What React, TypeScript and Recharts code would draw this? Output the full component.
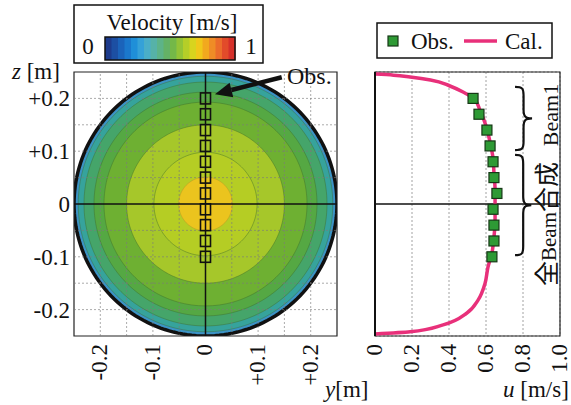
import React from "react";
import {
  ComposedChart,
  Area,
  Line,
  Scatter,
  XAxis,
  YAxis,
  CartesianGrid,
  ReferenceLine,
  ReferenceArea,
} from "recharts";

const SERIF = '"Liberation Serif", "Times New Roman", serif';
const CJK = '"Noto Sans CJK JP", "Noto Sans CJK SC", sans-serif';

// contour levels of the cross-section: radius [m] and fill
const contourRadii = [0.25, 0.242, 0.231, 0.212, 0.193, 0.15, 0.098, 0.051];
const contourColors = ["#3b93c6", "#36a39c", "#45a56a", "#55a843", "#6eb032", "#a6c72a", "#b5cd24", "#ebc41e"];

// measurement points (z [m]) and measured u [m/s]
const obsZ = [0.2, 0.17, 0.14, 0.11, 0.08, 0.05, 0.02, -0.01, -0.04, -0.07, -0.1];
const obsU = [0.53, 0.562, 0.605, 0.622, 0.638, 0.643, 0.659, 0.638, 0.643, 0.643, 0.632];

// calculated profile
const calZ = [0.246, 0.244, 0.2405, 0.235, 0.2235, 0.212, 0.197, 0.178, 0.148, 0.117, 0.087, 0.059, 0.027, -0.002, -0.032, -0.0625, -0.093, -0.119, -0.15, -0.182, -0.2065, -0.229, -0.242, -0.246];
const calU = [0, 0.1, 0.19, 0.3, 0.405, 0.476, 0.54, 0.567, 0.6, 0.622, 0.638, 0.643, 0.649, 0.649, 0.649, 0.643, 0.632, 0.611, 0.595, 0.557, 0.497, 0.368, 0.19, 0];

const posGrid = [-0.2, -0.15, -0.1, -0.05, 0, 0.05, 0.1, 0.15, 0.2];
const posLabels = [-0.2, -0.1, 0, 0.1, 0.2];
const uTicks = [0, 0.2, 0.4, 0.6, 0.8, 1.0];

const colorbarSteps = ["#1d3b8c", "#1c4fa3", "#1b63ba", "#1b78cc", "#1f8fd8", "#35a1d8", "#4aaec8", "#56b2a8", "#5db388", "#64b266", "#74b848", "#93c336", "#b5ce28", "#d8d41e", "#f0c81a", "#f2a91e", "#ef8c26", "#eb6c2b", "#e24b2a", "#d6302a"];

const circle = (r: number) => {
  const pts = [];
  for (let i = 0; i <= 90; i++) {
    const t = Math.PI - (Math.PI * i) / 90;
    const h = r * Math.sin(t);
    pts.push({ yPos: r * Math.cos(t), band: [-h, h] });
  }
  return pts;
};

const obsData = obsZ.map((z, i) => ({ yPos: 0, u: obsU[i], z }));
const calData = calZ.map((z, i) => ({ u: calU[i], z }));

const isLabel = (v: number) => posLabels.some((l) => Math.abs(l - v) < 1e-6);
const signed = (v: number) => (Math.abs(v) < 1e-9 ? "0" : v > 0 ? "+" + v.toFixed(1) : v.toFixed(1));

const LeftYTick = ({ x, y, payload }: any) =>
  isLabel(payload.value) ? (
    <text x={x} y={y} dy="0.35em" textAnchor="end" fontFamily={SERIF} fontSize={23} fill="#111">
      {signed(payload.value)}
    </text>
  ) : (
    <g />
  );

const RotTick = ({ x, y, payload, fmt }: any) => (
  <text x={x} y={y} dy="0.3em" textAnchor="end" transform={`rotate(-90 ${x} ${y})`} fontFamily={SERIF} fontSize={23} fill="#111">
    {fmt(payload.value)}
  </text>
);

const LeftXTick = (p: any) => (isLabel(p.payload.value) ? <RotTick {...p} fmt={signed} /> : <g />);
const RightXTick = (p: any) => <RotTick {...p} fmt={(v: number) => (v === 0 ? "0" : v.toFixed(1))} />;

const OpenSquare = ({ cx, cy }: any) => (
  <rect x={cx - 5} y={cy - 5.5} width={10} height={11} fill="none" stroke="#111" strokeWidth={1.6} />
);
const GreenSquare = ({ cx, cy }: any) => (
  <rect x={cx - 5} y={cy - 5} width={10} height={10} fill="#2e9a35" stroke="#163816" strokeWidth={1.2} />
);

const Arrow = ({ x1, y1, x2, y2 }: any) => {
  const a = Math.atan2(y2 - y1, x2 - x1);
  const head = 17;
  const half = 7.5;
  const bx = x2 - head * Math.cos(a);
  const by = y2 - head * Math.sin(a);
  const px = -Math.sin(a) * half;
  const py = Math.cos(a) * half;
  return (
    <g>
      <line x1={x1} y1={y1} x2={bx} y2={by} stroke="#111" strokeWidth={4.5} />
      <polygon points={`${x2},${y2} ${bx + px},${by + py} ${bx - px},${by - py}`} fill="#111" />
    </g>
  );
};

const Brace = ({ x, y, width: w, height: h }: any) => {
  const m = y + h / 2;
  const c = 9;
  const xm = x + w / 2;
  const d = `M ${x} ${y} C ${x + w * 0.45} ${y} ${xm} ${y + 2} ${xm} ${y + c} L ${xm} ${m - c} C ${xm} ${m - 2} ${x + w * 0.6} ${m} ${x + w} ${m} C ${x + w * 0.6} ${m} ${xm} ${m + 2} ${xm} ${m + c} L ${xm} ${y + h - c} C ${xm} ${y + h - 2} ${x + w * 0.45} ${y + h} ${x} ${y + h}`;
  return <path d={d} fill="none" stroke="#111" strokeWidth={2.2} />;
};

export default function App() {
  const dashedGrid = posGrid.filter((v) => Math.abs(v) > 1e-9);
  return (
    <div style={{ position: "absolute", left: 0, top: 0, width: 571, height: 405, background: "#fff" }}>
      <div style={{ position: "absolute", left: 0, top: 0 }}>
        <ComposedChart width={345} height={405} margin={{ top: 72, right: 8, bottom: 19, left: 14 }}>
          <XAxis
            type="number"
            dataKey="yPos"
            domain={[-0.25, 0.25]}
            allowDataOverflow
            ticks={posGrid}
            interval={0}
            height={50}
            tickSize={0}
            tickMargin={8}
            axisLine={false}
            tick={LeftXTick}
          />
          <YAxis
            type="number"
            dataKey="z"
            domain={[-0.25, 0.25]}
            allowDataOverflow
            ticks={posGrid}
            interval={0}
            width={60}
            tickSize={0}
            tickMargin={4}
            axisLine={false}
            tick={LeftYTick}
          />
          {contourRadii.map((r, i) => (
            <Area
              key={r}
              data={circle(r)}
              dataKey="band"
              type="linear"
              fill={contourColors[i]}
              fillOpacity={1}
              stroke={i === 0 ? "#111" : i === contourRadii.length - 1 ? "#b8902a" : "#3f6d2a"}
              strokeOpacity={i === 0 ? 1 : 0.55}
              strokeWidth={i === 0 ? 3.5 : 0.8}
              isAnimationActive={false}
            />
          ))}
          {dashedGrid.map((v) => (
            <ReferenceLine key={"gx" + v} x={v} stroke="#7a7a7a" strokeOpacity={0.8} strokeDasharray="2 2" strokeWidth={0.8} />
          ))}
          {dashedGrid.map((v) => (
            <ReferenceLine key={"gy" + v} y={v} stroke="#7a7a7a" strokeOpacity={0.8} strokeDasharray="2 2" strokeWidth={0.8} />
          ))}
          <ReferenceArea x1={-0.25} x2={0.25} y1={-0.25} y2={0.25} fill="none" stroke="#222" strokeWidth={1.2} />
          <ReferenceLine y={0} stroke="#111" strokeWidth={1.5} />
          <ReferenceLine x={0} stroke="#111" strokeWidth={1.5} />
          <Scatter data={obsData} shape={OpenSquare} isAnimationActive={false} />
          <ReferenceLine
            segment={[
              { x: 0.145, y: 0.24 },
              { x: 0.018, y: 0.208 },
            ]}
            shape={Arrow}
          />
        </ComposedChart>
      </div>

      <div style={{ position: "absolute", left: 345, top: 0 }}>
        <ComposedChart width={226} height={405} margin={{ top: 72, right: 11, bottom: 19, left: 0 }}>
          <XAxis
            type="number"
            dataKey="u"
            domain={[0, 1]}
            allowDataOverflow
            ticks={uTicks}
            interval={0}
            height={50}
            tickSize={0}
            tickMargin={8}
            axisLine={false}
            tick={RightXTick}
          />
          <YAxis
            type="number"
            dataKey="z"
            domain={[-0.25, 0.25]}
            allowDataOverflow
            ticks={posGrid}
            interval={0}
            width={30}
            tick={false}
            tickLine={false}
            axisLine={{ stroke: "#111", strokeWidth: 2 }}
          />
          <CartesianGrid stroke="#8a8a8a" strokeDasharray="2 2" strokeWidth={0.8} />
          <ReferenceArea x1={0} x2={1} y1={-0.25} y2={0.25} fill="none" stroke="#222" strokeWidth={1.2} />
          <ReferenceLine y={0} stroke="#111" strokeWidth={1.5} />
          <Line data={calData} dataKey="z" type="monotoneY" stroke="#e8307a" strokeWidth={3.5} dot={false} isAnimationActive={false} />
          <Scatter data={obsData} shape={GreenSquare} isAnimationActive={false} />
          <ReferenceArea x1={0.757} x2={0.849} y1={0.222} y2={0.102} shape={Brace} ifOverflow="visible" />
          <ReferenceArea x1={0.757} x2={0.845} y1={0.093} y2={-0.097} shape={Brace} ifOverflow="visible" />
        </ComposedChart>
      </div>

      <svg width={571} height={405} style={{ position: "absolute", left: 0, top: 0, pointerEvents: "none" }} fontFamily={SERIF} fill="#111">
        {/* colour bar */}
        <rect x={74} y={5} width={189} height={58} fill="#fff" stroke="#111" strokeWidth={1.5} />
        <text x={172} y={30} textAnchor="middle" fontSize={23}>Velocity [m/s]</text>
        <text x={88} y={54} textAnchor="middle" fontSize={23}>0</text>
        <text x={251} y={54} textAnchor="middle" fontSize={23}>1</text>
        {colorbarSteps.map((c, i) => (
          <rect key={i} x={105 + (130 / colorbarSteps.length) * i} y={37} width={130 / colorbarSteps.length + 0.5} height={23} fill={c} />
        ))}
        <rect x={105} y={37} width={130} height={23} fill="none" stroke="#111" strokeWidth={1.5} />

        <text x={12} y={79} fontSize={23}>
          <tspan fontStyle="italic">z</tspan> [m]
        </text>
        <text x={287} y={84} fontSize={24}>Obs.</text>
        <text x={325} y={397} fontSize={23}>
          <tspan fontStyle="italic">y</tspan>[m]
        </text>
        <text x={503} y={397} fontSize={23}>
          <tspan fontStyle="italic">u</tspan> [m/s]
        </text>

        {/* legend */}
        <rect x={377} y={23} width={175} height={35} fill="#fff" stroke="#111" strokeWidth={1.5} />
        <rect x={388} y={36} width={10} height={10} fill="#2e9a35" stroke="#163816" strokeWidth={1.2} />
        <text x={411} y={49} fontSize={23}>Obs.</text>
        <line x1={464} y1={41} x2={497} y2={41} stroke="#e8307a" strokeWidth={3.5} />
        <text x={505} y={49} fontSize={23}>Cal.</text>

        <text x={550} y={115} dy="0.35em" textAnchor="middle" transform="rotate(-90 550 115)" fontSize={22}>Beam1</text>
        <text x={549} y={224} dy="0.35em" textAnchor="middle" transform="rotate(-90 549 224)" fontSize={21}>
          <tspan fontFamily={CJK} fontSize={25}>全</tspan>Beam<tspan fontFamily={CJK} fontSize={25}>合成</tspan>
        </text>
      </svg>
    </div>
  );
}
